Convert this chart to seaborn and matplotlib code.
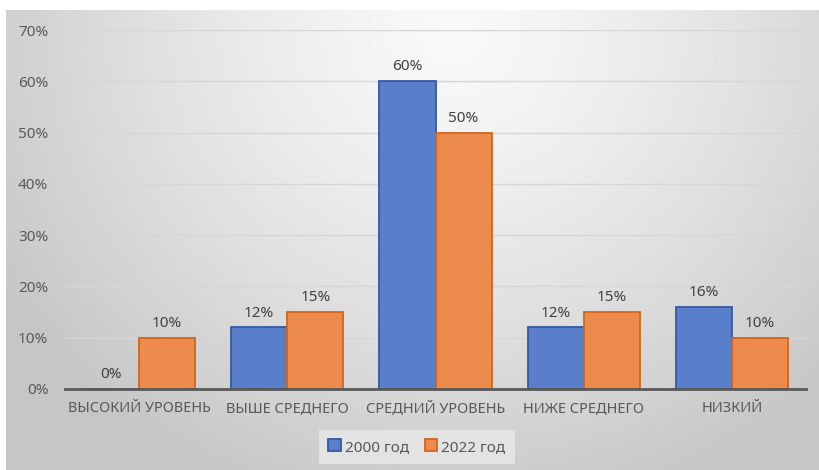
import numpy as np
import pandas as pd
import seaborn as sns
import matplotlib.pyplot as plt
from matplotlib.ticker import PercentFormatter

categories = ["ВЫСОКИЙ УРОВЕНЬ", "ВЫШЕ СРЕДНЕГО", "СРЕДНИЙ УРОВЕНЬ", "НИЖЕ СРЕДНЕГО", "НИЗКИЙ"]
series_names = ["2000 год", "2022 год"]
values_2000 = [0.00, 0.12, 0.60, 0.12, 0.16]
values_2022 = [0.10, 0.15, 0.50, 0.15, 0.10]

fill_colors = ["#5a7fca", "#ec8b4c"]
edge_colors = ["#3659a3", "#d2651b"]
text_grey = "#595959"

df = pd.DataFrame({
    "Category": categories * 2,
    "Year": [series_names[0]] * len(categories) + [series_names[1]] * len(categories),
    "Value": values_2000 + values_2022,
})

sns.set_theme(style="white")
plt.rcParams['font.family'] = ['Noto Sans', 'DejaVu Sans']

fig = plt.figure(figsize=(8.19, 4.70), dpi=100)

# radial gradient chart background (Excel style)
bg = fig.add_axes([6 / 819, 0, 813 / 819, 460 / 470], zorder=0)
gx, gy = np.meshgrid(np.linspace(0, 1, 400), np.linspace(0, 1, 240))
dist = np.sqrt(((gx - 0.55) * 1.0) ** 2 + ((gy - 0.05) * 0.6) ** 2)
shade = 0.975 - 0.2 * np.clip(dist / 0.65, 0, 1) ** 1.3
bg.imshow(shade, cmap="gray", vmin=0, vmax=1, aspect="auto", extent=[0, 1, 1, 0])
bg.set_axis_off()

ax = fig.add_axes([65 / 819, 1 - 389 / 470, 741 / 819, 359 / 470], zorder=1)
ax.set_facecolor("none")

sns.barplot(data=df, x="Category", y="Value", hue="Year", palette=fill_colors,
            width=0.757, gap=0, saturation=1, ax=ax, zorder=3)

for container, ec in zip(ax.containers, edge_colors):
    for bar in container:
        bar.set_edgecolor(ec)
        bar.set_linewidth(1.3)
    ax.bar_label(container, labels=[f"{v * 100:.0f}%" for v in container.datavalues],
                 padding=5, fontsize=11, color="#404040")

ax.set_ylim(0, 0.7)
ax.set_yticks(np.arange(0, 0.71, 0.1))
ax.yaxis.set_major_formatter(PercentFormatter(1.0, decimals=0))
ax.set_xlim(-0.5, len(categories) - 0.5)
ax.grid(axis="y", color="#d6d6d6", linewidth=1.0, zorder=0)
ax.set_axisbelow(True)
for s in ["top", "right", "left"]:
    ax.spines[s].set_visible(False)
ax.spines["bottom"].set_color("#595959")
ax.spines["bottom"].set_linewidth(2.0)
ax.spines["bottom"].set_zorder(4)
ax.tick_params(axis="both", length=0, labelsize=10.5, labelcolor=text_grey)
ax.tick_params(axis="y", labelsize=11, pad=12)
ax.tick_params(axis="x", pad=9)
ax.set_xlabel("")
ax.set_ylabel("")

ax.legend_.remove()
handles = [plt.Rectangle((0, 0), 1, 1, facecolor=fc, edgecolor=ec, linewidth=1.3)
           for fc, ec in zip(fill_colors, edge_colors)]
leg = fig.legend(handles, series_names, loc="center", bbox_to_anchor=(417 / 819, 1 - 447 / 470),
                 ncol=2, frameon=True, fontsize=11, handlelength=0.8, handleheight=0.8,
                 handletextpad=0.3, columnspacing=1.0, borderpad=0.6)
leg.get_frame().set_facecolor("#e6e6e6")
leg.get_frame().set_edgecolor("none")
leg.get_frame().set_alpha(0.9)
leg.get_frame().set_boxstyle("square", pad=0)
for t in leg.get_texts():
    t.set_color(text_grey)

fig.savefig("out.png", dpi=100)
